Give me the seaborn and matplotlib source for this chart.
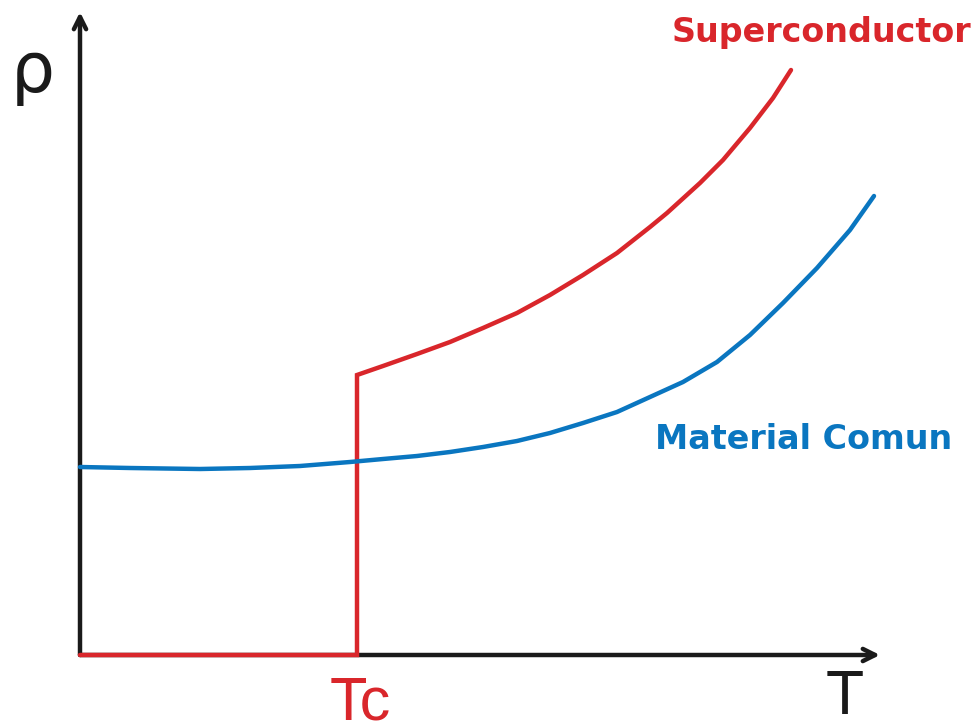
import matplotlib
matplotlib.use("Agg")
import matplotlib.pyplot as plt
import pandas as pd
import seaborn as sns

# ─── Data (T, rho in arbitrary units, origin at axis corner) ─────────────────
TC = 2.77

# superconductor: zero resistance up to Tc, jump, then rising curve
sc_T   = [0.0, TC, TC, 3.03, 3.37, 3.70, 4.03, 4.37, 4.70, 5.03, 5.37,
          5.70, 5.87, 6.20, 6.43, 6.70, 6.93, 7.11]
sc_rho = [0.0, 0.0, 2.80, 2.89, 3.01, 3.13, 3.27, 3.42, 3.60, 3.80, 4.02,
          4.28, 4.42, 4.72, 4.95, 5.27, 5.57, 5.85]

# common material
mc_T   = [0.0, 0.5, 1.2, 1.7, 2.2, 2.7, 3.03, 3.37, 3.70, 4.03, 4.37,
          4.70, 5.03, 5.37, 5.70, 6.03, 6.37, 6.70, 7.03, 7.37, 7.70, 7.94]
mc_rho = [1.88, 1.87, 1.86, 1.87, 1.89, 1.93, 1.96, 1.99, 2.03, 2.08, 2.14,
          2.22, 2.32, 2.43, 2.58, 2.73, 2.93, 3.20, 3.52, 3.87, 4.25, 4.59]

X_END, Y_END = 8.0, 6.43

RED   = "#d9262b"
BLUE  = "#0a76c0"

sc = pd.DataFrame({"T": sc_T, "rho": sc_rho})
mc = pd.DataFrame({"T": mc_T, "rho": mc_rho})

sns.set_theme(style="white")
plt.rcParams["font.family"] = ["Liberation Sans", "DejaVu Sans"]

fig = plt.figure(figsize=(9.8, 7.22), dpi=100)
ax = fig.add_axes([0, 0, 1, 1])
ax.set_xlim(-0.8, 9.0)
ax.set_ylim(-0.67, 6.55)
ax.axis("off")

# ── axes with arrows ──
arrow = dict(arrowstyle="->", lw=3.2, color="#1a1a1a", mutation_scale=22,
             shrinkA=0, shrinkB=0)
ax.annotate("", xy=(0, Y_END), xytext=(0, 0), arrowprops=arrow, zorder=1)
ax.annotate("", xy=(X_END, 0), xytext=(0, 0), arrowprops=arrow, zorder=1)

# ── curves ──
sns.lineplot(data=mc, x="T", y="rho", sort=False, estimator=None, ax=ax,
             color=BLUE, lw=3.2, zorder=3, solid_joinstyle="round")
sns.lineplot(data=sc, x="T", y="rho", sort=False, estimator=None, ax=ax,
             color=RED, lw=3.2, zorder=2, solid_joinstyle="miter")

# ── labels ──
ax.text(-0.47, 5.83, "ρ", fontsize=50, color="#1a1a1a", ha="center", va="center",
        family=["DejaVu Sans"])
ax.text(7.65, -0.13, "T", fontsize=45, color="#1a1a1a", ha="center", va="top")
ax.text(TC + 0.03, -0.2, "Tc", fontsize=44, color=RED, ha="center", va="top")
ax.text(7.41, 6.13, "Superconductor", fontsize=24, fontweight="bold", color=RED,
        ha="center", va="baseline", family=["DejaVu Sans"])
ax.text(7.24, 2.06, "Material Comun", fontsize=24, fontweight="bold", color=BLUE,
        ha="center", va="baseline", family=["DejaVu Sans"])

fig.savefig("out.png", dpi=100)
